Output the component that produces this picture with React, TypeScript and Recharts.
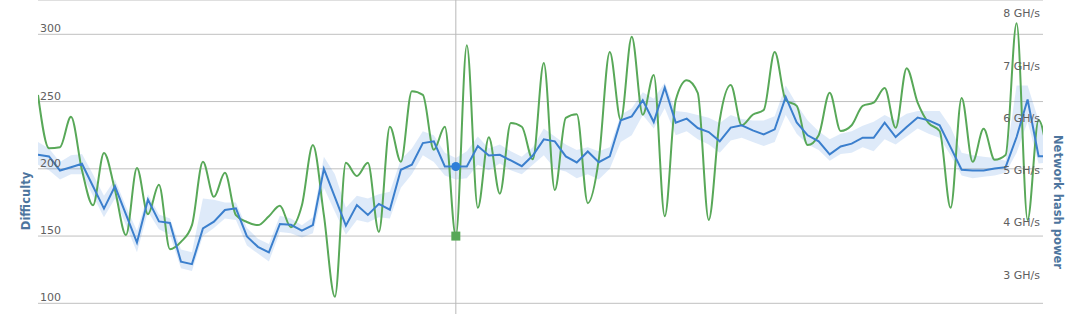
import {
  ComposedChart,
  Line,
  Area,
  XAxis,
  YAxis,
  CartesianGrid,
  ReferenceLine,
  ReferenceDot,
} from "recharts";

const WIDTH = 1089;
const HEIGHT = 314;
const PLOT_LEFT = 38;
const PLOT_RIGHT = 1043;
const HOVER = 38;

// difficulty (blue line), one point per block window
const difficulty = [
  210.4, 209.2, 198.7, 201.2, 203.7, 187, 170.4, 187, 166.1, 145.2,
  177.1, 160.9, 159.7, 131, 129.1, 155.7, 160.7, 169.4, 170.6, 149.7,
  142, 137.8, 159, 158.4, 154, 158.2, 200, 178.9, 157.7, 173.1,
  165.7, 173.9, 169.6, 199.3, 203, 219.1, 220.4, 201.7, 201.7, 201.7,
  216.9, 209.9, 210.4, 206.2, 201.9, 209.9, 221.9, 220.4, 209.2, 204.7,
  212.9, 204.9, 209.2, 236, 239, 251, 234.8, 260.4, 234.3, 237.3,
  230.3, 227.3, 220.4, 230.6, 232.3, 228.6, 225.6, 229.3, 253.4, 234.5,
  224.9, 220.4, 210.7, 216.6, 218.7, 223.1, 223.1, 234.3, 223.6, 231,
  238.1, 236, 232.3, 215.9, 199.3, 198.7, 198.7, 200.2, 201.2, 223.6,
  251.5, 209.4, 209.4,
];

// difficulty range band
const difficultyHigh = [
  220, 215, 205, 210, 211, 196, 180, 192, 172, 154,
  181, 166, 163, 140, 138, 178, 177, 175, 175, 156,
  148, 144, 165, 163, 158, 164, 209, 196, 171, 180,
  178, 181, 183, 207, 215, 228, 225, 212, 208, 213,
  224, 215, 218, 213, 209, 216, 230, 224, 218, 214,
  216, 213, 216, 240, 245, 257, 252, 264, 243, 242,
  240, 238, 234, 240, 237, 236, 236, 239, 262, 248,
  236, 228, 222, 226, 228, 232, 235, 240, 236, 241,
  243, 243, 243, 231, 212, 210, 209, 208, 206, 262,
  262, 236, 215,
];

const difficultyLow = [
  203, 199, 192, 196, 196, 180, 164, 178, 158, 138,
  168, 155, 151, 126, 124, 150, 156, 163, 162, 143,
  137, 131, 153, 152, 149, 152, 186, 168, 151, 162,
  160, 164, 163, 186, 196, 210, 205, 195, 192, 193,
  203, 199, 204, 199, 196, 203, 210, 200, 198, 193,
  196, 192, 200, 220, 225, 240, 230, 245, 225, 228,
  222, 218, 212, 221, 223, 220, 217, 220, 240, 226,
  218, 214, 206, 211, 212, 216, 213, 222, 218, 224,
  230, 226, 223, 210, 195, 193, 194, 195, 197, 212,
  235, 204, 205,
];

// network hash power, GH/s (green line)
const hashPower = [
  6.44, 5.42, 5.44, 6.02, 5.0, 4.33, 5.33, 4.62, 3.76, 5.04,
  4.16, 4.72, 3.49, 3.63, 3.95, 5.16, 4.49, 4.95, 4.14, 4.01,
  3.95, 4.12, 4.32, 3.91, 4.33, 5.48, 4.14, 2.58, 5.14, 4.89,
  5.14, 3.82, 5.83, 5.16, 6.51, 6.44, 5.39, 5.83, 3.74, 7.39,
  4.28, 5.63, 4.55, 5.9, 5.83, 5.21, 7.05, 4.62, 6.0, 6.07,
  4.37, 5.2, 7.26, 5.96, 7.55, 6.06, 6.82, 4.12, 6.34, 6.72,
  6.48, 4.05, 5.96, 6.63, 5.86, 6.06, 6.15, 7.26, 6.34, 6.23,
  5.48, 5.67, 6.48, 5.75, 5.86, 6.23, 6.29, 6.57, 5.81, 6.95,
  6.29, 5.9, 5.75, 4.28, 6.38, 5.16, 5.79, 5.2, 5.29, 7.81,
  4.05, 5.96, 5.0,
];

const difficultyTicks = [100, 150, 200, 250, 300];
const hashTicks = [3, 4, 5, 6, 7, 8];

const data = difficulty.map((d, i) => ({
  i,
  difficulty: d,
  range: [difficultyLow[i], difficultyHigh[i]],
  hash: hashPower[i],
}));

const labelFont = "'DejaVu Sans', Verdana, sans-serif";

const LeftTick = (props: any) => (
  <text
    x={PLOT_LEFT + 2}
    y={props.y - 2}
    fontSize={11}
    fontFamily={labelFont}
    fill="#606060"
    textAnchor="start"
  >
    {props.payload.value}
  </text>
);

const RightTick = (props: any) => (
  <text
    x={PLOT_RIGHT - 3}
    y={props.y + 4}
    fontSize={11}
    fontFamily={labelFont}
    fill="#606060"
    textAnchor="end"
  >
    {`${props.payload.value} GH/s`}
  </text>
);

export default function App() {
  return (
    <div style={{ position: "absolute", left: 0, top: 0, width: WIDTH, height: HEIGHT }}>
      <ComposedChart
        width={WIDTH}
        height={HEIGHT}
        data={data}
        margin={{ top: 0, right: 0, bottom: 10.7, left: 0 }}
      >
        <CartesianGrid
          yAxisId="left"
          vertical={false}
          stroke="#c0c0c0"
          strokeWidth={1}
        />
        <XAxis
          type="number"
          dataKey="i"
          domain={[0, 91.4]}
          allowDataOverflow
          hide
        />
        <YAxis
          yAxisId="left"
          width={PLOT_LEFT}
          domain={[100, 325.5]}
          ticks={difficultyTicks}
          interval={0}
          allowDataOverflow
          axisLine={false}
          tickLine={false}
          tick={<LeftTick />}
          label={() => (
            <text
              x={26}
              y={201}
              transform="rotate(-90 26 201)"
              textAnchor="middle"
              dominantBaseline="middle"
              fontSize={11.5}
              fontWeight="bold"
              fontFamily={labelFont}
              fill="#4d759e"
            >
              Difficulty
            </text>
          )}
        />
        <YAxis
          yAxisId="right"
          orientation="right"
          width={WIDTH - PLOT_RIGHT}
          domain={[2.455, 8.254]}
          ticks={hashTicks}
          interval={0}
          allowDataOverflow
          axisLine={false}
          tickLine={false}
          tick={<RightTick />}
          label={() => (
            <text
              x={1057.5}
              y={202}
              transform="rotate(90 1057.5 202)"
              textAnchor="middle"
              dominantBaseline="middle"
              fontSize={11.5}
              fontWeight="bold"
              fontFamily={labelFont}
              fill="#4d759e"
            >
              Network hash power
            </text>
          )}
        />
        <Area
          yAxisId="left"
          dataKey="range"
          type="linear"
          stroke="none"
          fill="#2f7ed8"
          fillOpacity={0.16}
          isAnimationActive={false}
        />
        <ReferenceLine
          yAxisId="left"
          x={HOVER}
          shape={(p: any) => (
            <line x1={p.x1} x2={p.x2} y1={0} y2={HEIGHT} stroke="#b8b8b8" strokeWidth={1} />
          )}
        />
        <Line
          yAxisId="right"
          dataKey="hash"
          type="monotone"
          stroke="#58a858"
          strokeWidth={2}
          dot={false}
          activeDot={false}
          isAnimationActive={false}
        />
        <Line
          yAxisId="left"
          dataKey="difficulty"
          type="linear"
          stroke="#3b7fcd"
          strokeWidth={2}
          dot={false}
          activeDot={false}
          isAnimationActive={false}
        />
        <ReferenceDot
          yAxisId="left"
          x={HOVER}
          y={difficulty[HOVER]}
          r={4.5}
          fill="#2f7ed8"
          stroke="none"
        />
        <ReferenceDot
          yAxisId="right"
          x={HOVER}
          y={hashPower[HOVER]}
          shape={(p: any) => (
            <rect x={p.cx - 4.5} y={p.cy - 4.5} width={9} height={9} fill="#58a858" />
          )}
        />
      </ComposedChart>
    </div>
  );
}
